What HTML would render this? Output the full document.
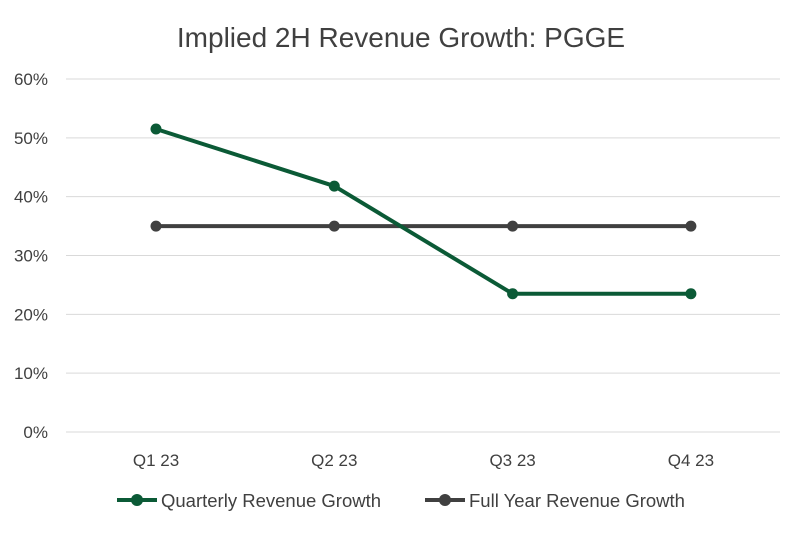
<!DOCTYPE html>
<html><head><meta charset="utf-8"><style>
body{margin:0;background:#fff;}
svg text{font-family:"Liberation Sans Narrow","Liberation Sans",sans-serif;fill:#404040;}
</style></head><body>
<svg width="803" height="531" viewBox="0 0 803 531">
<text x="401" y="47" font-size="28" text-anchor="middle">Implied 2H Revenue Growth: PGGE</text>
<g id="grid"></g><g id="xlab"></g><g id="series"></g>
<g>
<g>
<line x1="117" y1="500" x2="157" y2="500" stroke="#0b5a36" stroke-width="4"/>
<circle cx="137" cy="500" r="6" fill="#0b5a36"/>
<text x="161" y="507" font-size="18.5">Quarterly Revenue Growth</text></g>
<g>
<line x1="425" y1="500" x2="465" y2="500" stroke="#404040" stroke-width="4"/>
<circle cx="445" cy="500" r="6" fill="#404040"/>
<text x="469" y="507" font-size="18.5">Full Year Revenue Growth</text></g>
</g>
</svg>
<script>
const categories=["Q1 23","Q2 23","Q3 23","Q4 23"];
const quarterly=[51.5,41.8,23.5,23.5];
const fullYear=[35,35,35,35];
const yTicks=[0,10,20,30,40,50,60];
const yTickLabels=["0%","10%","20%","30%","40%","50%","60%"];
const NS="http://www.w3.org/2000/svg";
const y=v=>432-v*(353/60);
const x=i=>156+i*178.3;
function mk(t,a,p){const e=document.createElementNS(NS,t);for(const k in a)e.setAttribute(k,a[k]);p.appendChild(e);return e;}
const g=document.getElementById('grid');
yTicks.forEach((v,i)=>{
 const l=mk('line',{x1:66,x2:780,y1:y(v),y2:y(v),stroke:'#d9d9d9','stroke-width':1},g);
 
 
 const t=mk('text',{x:48,y:y(v)+6,'font-size':17,'text-anchor':'end'},g);
 t.textContent=yTickLabels[i];
 
 
});
const xl=document.getElementById('xlab');
categories.forEach((c,i)=>{
 const t=mk('text',{x:x(i),y:466,'font-size':17,'text-anchor':'middle'},xl);
 t.textContent=c;
 
 
});
const s=document.getElementById('series');
function draw(vals,color,name){
 const pts=vals.map((v,i)=>x(i)+','+y(v)).join(' ');
 const pl=mk('polyline',{points:pts,fill:'none',stroke:color,'stroke-width':4,'stroke-linejoin':'round'},s);
 
 
 vals.forEach((v,i)=>{
  const c=mk('circle',{cx:x(i),cy:y(v),r:5.5,fill:color},s);
  
  
 });
}
draw(fullYear,'#404040','full-year-growth');
draw(quarterly,'#0b5a36','quarterly-growth');
</script>
</body></html>
